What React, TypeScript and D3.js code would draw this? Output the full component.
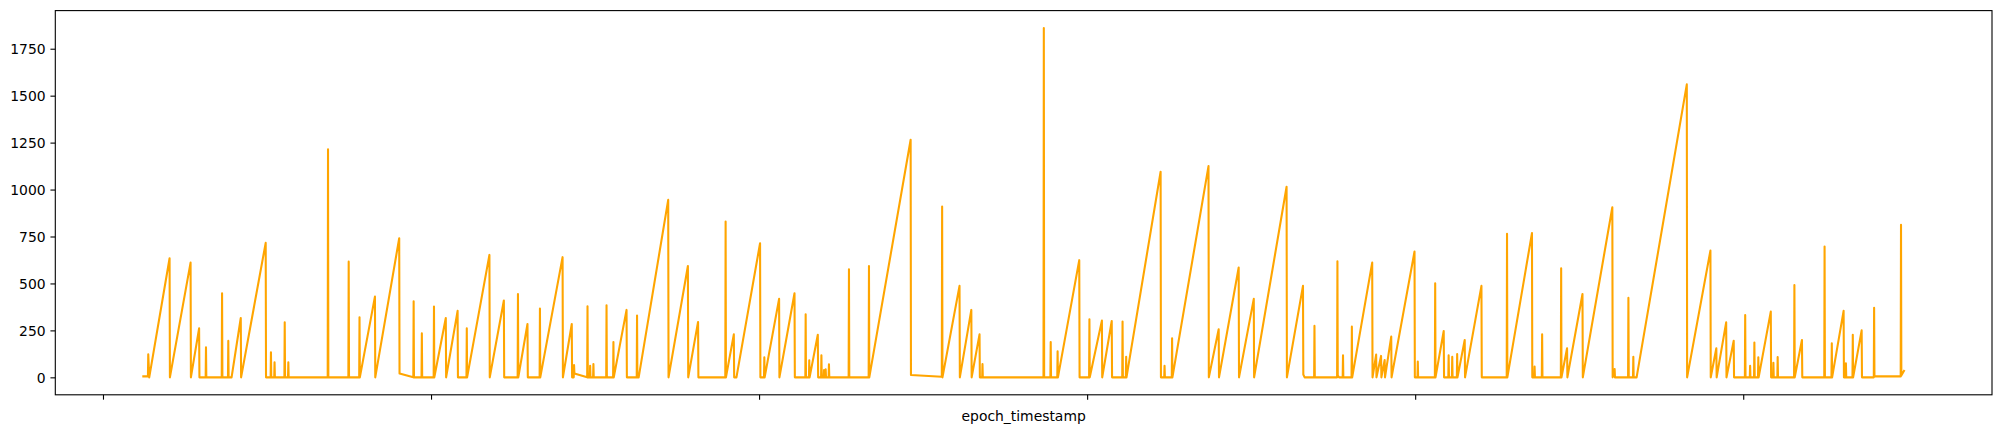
import * as d3 from 'd3';
import React, { useEffect, useRef } from 'react';

const WIDTH = 2002;
const HEIGHT = 434;

// epoch_timestamp (hours from the first tick) and value
const series: [number, number][] = [
  [12.3, 5], [13.7, 5], [13.8, 123], [14.1, 0], [20.3, 634], [20.4, 0], [26.7, 611], [26.8, 0],
  [29.3, 261], [29.4, 0], [31.3, 0], [31.4, 160], [31.5, 0], [36.2, 0], [36.3, 448], [36.4, 0],
  [38.1, 0], [38.2, 194], [38.3, 0], [39.2, 0], [42.0, 316], [42.1, 0], [49.6, 716], [49.7, 0],
  [51.1, 0], [51.2, 133], [51.3, 0], [52.2, 0], [52.3, 80], [52.4, 0], [55.3, 0], [55.4, 293],
  [55.5, 0], [56.4, 0], [56.5, 80], [56.6, 0], [68.5, 0], [68.6, 1215], [68.7, 0], [74.8, 0],
  [74.9, 616], [75.0, 0], [78.1, 0], [78.2, 320], [78.3, 0], [82.9, 430], [83.0, 0], [90.3, 741],
  [90.4, 20], [94.6, 0], [94.7, 405], [94.8, 0], [97.1, 0], [97.2, 234], [97.3, 0], [100.8, 0],
  [100.9, 377], [101.0, 0], [104.5, 316], [104.6, 0], [108.1, 354], [108.2, 0], [110.8, 0],
  [110.9, 261], [111.0, 0], [117.8, 652], [117.9, 0], [122.2, 409], [122.3, 0],
  [126.4, 0], [126.5, 444], [126.6, 0], [129.4, 284], [129.5, 0], [133.1, 0], [133.2, 366],
  [133.3, 0], [140.1, 640], [140.2, 0], [142.9, 284], [143.0, 0], [143.5, 0], [143.6, 66],
  [143.7, 20], [147.6, 0], [147.7, 378], [147.8, 0], [148.4, 0], [148.5, 62], [148.6, 0],
  [149.4, 0], [149.5, 71], [149.6, 0], [153.4, 0], [153.5, 384], [153.6, 0], [155.5, 0],
  [155.6, 188], [155.7, 0], [159.6, 359], [159.7, 0], [162.7, 0], [162.8, 329], [162.9, 0],
  [163.3, 0], [172.3, 945], [172.4, 0], [178.3, 593], [178.4, 0], [181.4, 295], [181.5, 0],
  [189.7, 0], [189.8, 830], [189.9, 0], [192.3, 229], [192.4, 0], [193.1, 0], [200.3, 714],
  [200.4, 0], [201.5, 0], [201.6, 107], [201.7, 0], [206.1, 418], [206.2, 0], [210.8, 448],
  [210.9, 0], [214.1, 0], [214.2, 336], [214.3, 0], [215.2, 0], [215.3, 91], [215.4, 0],
  [217.9, 227], [218.0, 0], [218.9, 0], [219.0, 117], [219.1, 0], [219.7, 0], [219.8, 39],
  [219.9, 0], [220.2, 0], [220.3, 43], [220.4, 0], [221.2, 0], [221.3, 69], [221.4, 0],
  [227.3, 0], [227.4, 576], [227.5, 0], [233.4, 0], [233.5, 593], [233.6, 0], [246.2, 1265],
  [246.3, 12], [255.7, 3], [255.8, 910], [255.9, 0], [261.1, 487], [261.2, 0], [264.7, 359],
  [264.8, 0], [267.2, 229], [267.3, 0], [268.0, 0], [268.1, 71], [268.2, 0], [286.7, 0],
  [286.8, 1860], [286.9, 0], [288.8, 0], [288.9, 188], [289.0, 0], [290.9, 0], [291.0, 139],
  [291.1, 0], [297.6, 624], [297.7, 0], [300.6, 0], [300.7, 309], [300.8, 0], [304.5, 302],
  [304.6, 0], [307.5, 300], [307.6, 0], [310.7, 0], [310.8, 297], [310.9, 0], [311.8, 0],
  [311.9, 110], [312.0, 0], [322.4, 1095], [322.5, 0], [323.5, 0], [323.6, 62], [323.7, 0],
  [325.8, 0], [325.9, 208], [326.0, 0], [337.0, 1125], [337.1, 0], [340.1, 256], [340.2, 0],
  [346.2, 585], [346.3, 0], [350.8, 418], [350.9, 0], [360.8, 1015], [360.9, 0], [365.8, 487],
  [365.9, 15], [366.3, 0], [369.2, 0], [369.3, 274], [369.4, 0], [376.2, 0], [376.3, 618],
  [376.4, 10], [376.8, 0], [377.9, 0], [378.0, 117], [378.1, 0], [380.6, 0], [380.7, 270],
  [380.8, 0], [386.9, 611], [387.0, 0], [388.1, 121], [388.2, 0], [389.6, 114], [389.7, 0],
  [390.7, 92], [390.8, 0], [392.7, 217], [392.8, 0], [399.8, 670], [399.9, 0], [400.7, 0],
  [400.8, 84], [400.9, 0], [406.0, 0], [406.1, 501], [406.2, 0], [408.7, 247], [408.8, 0],
  [410.1, 0], [410.2, 117], [410.3, 0], [411.2, 0], [411.3, 110], [411.4, 0], [412.7, 0],
  [412.8, 124], [412.9, 0], [415.1, 199], [415.2, 0], [420.2, 487], [420.3, 0], [427.9, 0],
  [428.0, 764], [428.1, 0], [435.6, 768], [435.7, 0], [436.3, 0], [436.4, 57], [436.5, 0],
  [438.6, 0], [438.7, 229], [438.8, 0], [444.4, 0], [444.5, 581], [444.6, 0], [446.3, 155],
  [446.4, 0], [451.0, 444], [451.1, 0], [460.1, 906], [460.2, 0], [460.8, 44], [460.9, 0],
  [464.9, 0], [465.0, 423], [465.1, 0], [466.4, 0], [466.5, 110], [466.6, 0], [467.5, 0],
  [482.8, 1560], [482.9, 0], [490.0, 675], [490.1, 0], [491.8, 155], [491.9, 0], [494.8, 293],
  [494.9, 0], [497.1, 195], [497.2, 0], [500.5, 0], [500.6, 332], [500.7, 0], [502.0, 0],
  [502.1, 62], [502.2, 0], [503.3, 0], [503.4, 185], [503.5, 0], [504.5, 0], [504.6, 107],
  [504.7, 0], [508.4, 350], [508.5, 0], [509.1, 0], [509.2, 78], [509.3, 0], [510.4, 0],
  [510.5, 108], [510.6, 0], [515.5, 0], [515.6, 492], [515.7, 0], [517.9, 199], [518.0, 0],
  [524.7, 0], [524.8, 697], [524.9, 0], [526.9, 0], [527.0, 181], [527.1, 0], [530.6, 354],
  [530.7, 0], [531.2, 0], [531.3, 75], [531.4, 0], [533.3, 0], [533.4, 227], [533.5, 0],
  [536.1, 250], [536.2, 0], [539.8, 0], [539.9, 370], [540.0, 5], [548.0, 5], [548.1, 812],
  [548.2, 10], [549.0, 34],
];

const xTicks = [0, 100, 200, 300, 400, 500];
const yTicks = [0, 250, 500, 750, 1000, 1250, 1500, 1750];
const X_LABEL = "epoch_timestamp";

const App: React.FC = () => {
  const svgRef = useRef<SVGSVGElement>(null);

  useEffect(() => {
    if (!svgRef.current) { return; }
    const svg = d3.select(svgRef.current);
    svg.selectAll("*").remove();

    const margin = { top: 10.6, right: 10, bottom: 39.2, left: 55.3 };
    const chartWidth = WIDTH - margin.left - margin.right;
    const chartHeight = HEIGHT - margin.top - margin.bottom;

    // matplotlib-like 5% padding on both axes
    const [xMin, xMax] = d3.extent(series, d => d[0]) as [number, number];
    const [yMin, yMax] = d3.extent(series, d => d[1]) as [number, number];
    const xPad = (xMax - xMin) * 0.05;
    const yPad = (yMax - yMin) * 0.05;

    const xScale = d3.scaleLinear()
      .domain([xMin - xPad, xMax + xPad])
      .range([0, chartWidth]);

    const yScale = d3.scaleLinear()
      .domain([yMin - yPad, yMax + yPad])
      .range([chartHeight, 0]);

    const chart = svg.append("g")
      .attr("transform", `translate(${margin.left},${margin.top})`);

    const font = "'DejaVu Sans', sans-serif";

    // Line
    const line = d3.line<[number, number]>()
      .x(d => xScale(d[0]))
      .y(d => yScale(d[1]));

    chart.append("path")
      .datum(series)
      .attr("d", line)
      .attr("fill", "none")
      .attr("stroke", "#ffa500")
      .attr("stroke-width", 2.08)
      .attr("stroke-linejoin", "round")
      .attr("stroke-linecap", "square");

    // Axes
    const xAxis = chart.append("g")
      .attr("transform", `translate(0,${chartHeight})`)
      .call(d3.axisBottom(xScale)
        .tickValues(xTicks)
        .tickSize(4.86)
        .tickFormat(() => "")
      );
    xAxis.select(".domain").remove();
    xAxis.selectAll(".tick line").attr("stroke", "#000").attr("stroke-width", 1.1);

    const yAxis = chart.append("g")
      .call(d3.axisLeft(yScale)
        .tickValues(yTicks)
        .tickSize(4.86)
        .tickPadding(4.86)
        .tickFormat(val => `${val}`)
      );
    yAxis.select(".domain").remove();
    yAxis.selectAll(".tick line").attr("stroke", "#000").attr("stroke-width", 1.1);
    yAxis.selectAll(".tick text")
      .attr("fill", "#000")
      .attr("dy", "0.36em")
      .style("font-family", font)
      .style("font-size", "13.9px");

    // Frame
    chart.append("rect")
      .attr("x", 0)
      .attr("y", 0)
      .attr("width", chartWidth)
      .attr("height", chartHeight)
      .attr("fill", "none")
      .attr("stroke", "#000")
      .attr("stroke-width", 1.1);

    // Axis label
    chart.append("text")
      .attr("x", chartWidth / 2)
      .attr("y", chartHeight + 26.5)
      .attr("text-anchor", "middle")
      .style("font-family", font)
      .style("font-size", "13.9px")
      .style("fill", "#000")
      .text(X_LABEL);
  }, []);

  return (
    <svg
      ref={svgRef}
      width={WIDTH}
      height={HEIGHT}
      style={{ position: "absolute", left: 0, top: 0, background: "#fff" }}
    />
  );
};

export default App;
